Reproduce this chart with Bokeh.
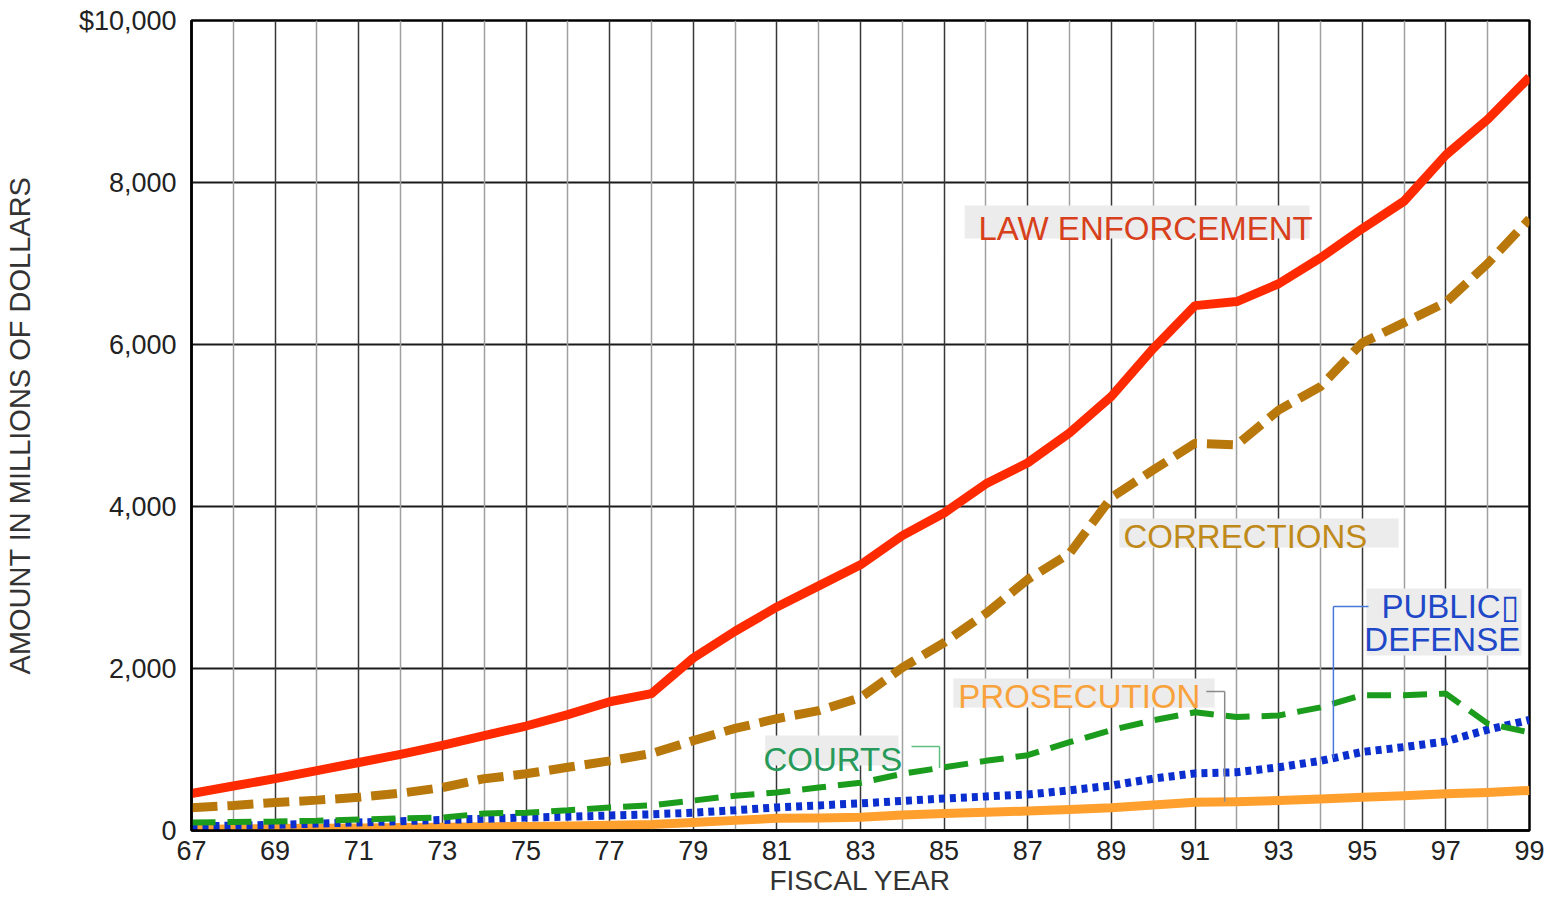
import numpy as np
from bokeh.plotting import figure
from bokeh.models import Range1d, FixedTicker, Grid, Label, BoxAnnotation, Arrow
from bokeh.embed import file_html
from bokeh.resources import INLINE

# ---------------- data (millions of dollars, fiscal years 1967-1999) ----------------
years = list(range(67, 100))
law_enforcement = [457, 550, 640, 740, 840, 940, 1050, 1170, 1290, 1430, 1590, 1690,
                   2130, 2460, 2760, 3020, 3280, 3640, 3920, 4280, 4540, 4910, 5360,
                   5950, 6480, 6530, 6750, 7070, 7430, 7770, 8340, 8780, 9300]
corrections = [280, 310, 345, 375, 410, 460, 530, 640, 700, 780, 860, 950,
               1110, 1260, 1380, 1480, 1640, 2010, 2320, 2680, 3100, 3420, 4110,
               4450, 4780, 4760, 5190, 5480, 6020, 6270, 6520, 7000, 7550]
courts = [100, 105, 110, 120, 135, 150, 160, 210, 220, 250, 285, 310,
          370, 430, 470, 530, 590, 700, 780, 860, 930, 1090, 1240,
          1360, 1460, 1400, 1420, 1520, 1670, 1670, 1690, 1320, 1210]
public_defense = [50, 60, 70, 85, 100, 115, 130, 145, 160, 170, 185, 200,
                  220, 250, 285, 310, 335, 365, 395, 420, 445, 495, 555,
                  640, 705, 720, 780, 860, 970, 1030, 1100, 1245, 1365]
prosecution = [15, 20, 25, 28, 32, 36, 40, 45, 50, 55, 65, 75,
               100, 125, 150, 155, 165, 190, 210, 225, 240, 260, 280,
               315, 350, 355, 370, 390, 410, 430, 455, 470, 495]

y_ticks = [0, 2000, 4000, 6000, 8000, 10000]
y_tick_labels = ["0", "2,000", "4,000", "6,000", "8,000", "$10,000"]
x_ticks = list(range(67, 100, 2))
x_tick_labels = [str(t) for t in x_ticks]

FONT = "Liberation Sans"

p = figure(frame_width=1338, frame_height=810,
           x_range=Range1d(67, 99), y_range=Range1d(0, 10000),
           output_backend="svg", toolbar_location=None,
           min_border_left=190, min_border_right=19,
           min_border_top=20, min_border_bottom=69)
p.background_fill_color = "white"
p.border_fill_color = "white"
p.outline_line_color = "black"
p.outline_line_width = 2.5

# ---------------- grids ----------------
p.xgrid.visible = False
p.ygrid.ticker = FixedTicker(ticks=[2000, 4000, 6000, 8000])
p.ygrid.grid_line_color = "#1a1a1a"
p.ygrid.grid_line_width = 2

even_grid = Grid(dimension=0, ticker=FixedTicker(ticks=list(range(68, 99, 2))),
                 grid_line_color="#a0a0a0", grid_line_width=1.5)
odd_grid = Grid(dimension=0, ticker=FixedTicker(ticks=list(range(69, 99, 2))),
                grid_line_color="#383838", grid_line_width=1.5)
p.add_layout(even_grid)
p.add_layout(odd_grid)

# ---------------- axes ----------------
p.xaxis.ticker = FixedTicker(ticks=x_ticks)
p.xaxis.major_label_overrides = dict(zip(x_ticks, x_tick_labels))
p.yaxis.ticker = FixedTicker(ticks=y_ticks)
p.yaxis.major_label_overrides = dict(zip(y_ticks, y_tick_labels))

for ax in (p.xaxis, p.yaxis):
    ax.major_tick_line_color = None
    ax.minor_tick_line_color = None
    ax.axis_line_color = "black"
    ax.axis_line_width = 2.5
    ax.major_label_text_font = FONT
    ax.major_label_text_font_size = "27px"
    ax.major_label_text_color = "#222222"
    ax.axis_label_text_font = FONT
    ax.axis_label_text_font_style = "normal"
    ax.axis_label_text_color = "#333333"

p.xaxis.axis_label_text_font_size = "28px"
p.yaxis.axis_label_text_font_size = "29px"
p.xaxis.major_label_standoff = 4
p.xaxis.axis_label = "FISCAL YEAR"
p.xaxis.axis_label_standoff = 2
p.yaxis.major_label_standoff = 9
p.yaxis.axis_label = "AMOUNT IN MILLIONS OF DOLLARS"
p.yaxis.axis_label_standoff = 40

# ---------------- series ----------------
p.line(years, prosecution, line_color="#ffa02e", line_width=9, line_join="round")
p.line(years, public_defense, line_color="#0b2fcf", line_width=8, line_dash="6 5")
p.line(years, courts, line_color="#1c9c1c", line_width=6, line_dash="24 12")
p.line(years, corrections, line_color="#b8780c", line_width=9, line_dash="26 10")
p.line(years, law_enforcement, line_color="#ff2a00", line_width=9, line_join="round")

# ---------------- series labels ----------------
BOX = "#ececec"
LIFT = 111  # baseline correction (data units)

def box(l, r, t, b):
    p.add_layout(BoxAnnotation(left=l, right=r, top=t, bottom=b, fill_color=BOX,
                               fill_alpha=1, line_color=None))

def label(x, y, text, color):
    p.add_layout(Label(x=x, y=y + LIFT, text=text, text_font=FONT, text_font_size="33px",
                       text_color=color, text_baseline="alphabetic", text_align="left"))

def leader(pts, color):
    for (x0, y0), (x1, y1) in zip(pts[:-1], pts[1:]):
        p.add_layout(Arrow(end=None, x_start=x0, y_start=y0, x_end=x1, y_end=y1,
                           line_color=color, line_width=1.5))

box(85.49, 93.74, 7716, 7309)
label(85.82, 7321, "LAW ENFORCEMENT", "#d8401c")

box(89.19, 95.87, 3852, 3494)
label(89.29, 3519, "CORRECTIONS", "#c08a1a")

box(95.10, 98.81, 2988, 2160)
label(95.46, 2654, "PUBLIC\u25af", "#1f48c8")
label(95.05, 2247, "DEFENSE", "#1f48c8")
pd_x = 94.31
leader([(95.15, 2765), (pd_x, 2765), (pd_x, float(np.interp(pd_x, years, public_defense)))], "#4a78d8")

box(85.22, 91.47, 1877, 1519)
label(85.34, 1543, "PROSECUTION", "#f9a23c")
pr_x = 91.71
leader([(91.27, 1716), (pr_x, 1716), (pr_x, float(np.interp(pr_x, years, prosecution)))], "#8a8a8a")

box(80.72, 83.91, 1173, 802)
label(80.68, 765, "COURTS", "#279a5a")
co_x = 84.89
leader([(84.22, 1037), (co_x, 1037), (co_x, float(np.interp(co_x, years, courts)))], "#5fbf7f")

open("out.html", "w").write(file_html(p, INLINE))
